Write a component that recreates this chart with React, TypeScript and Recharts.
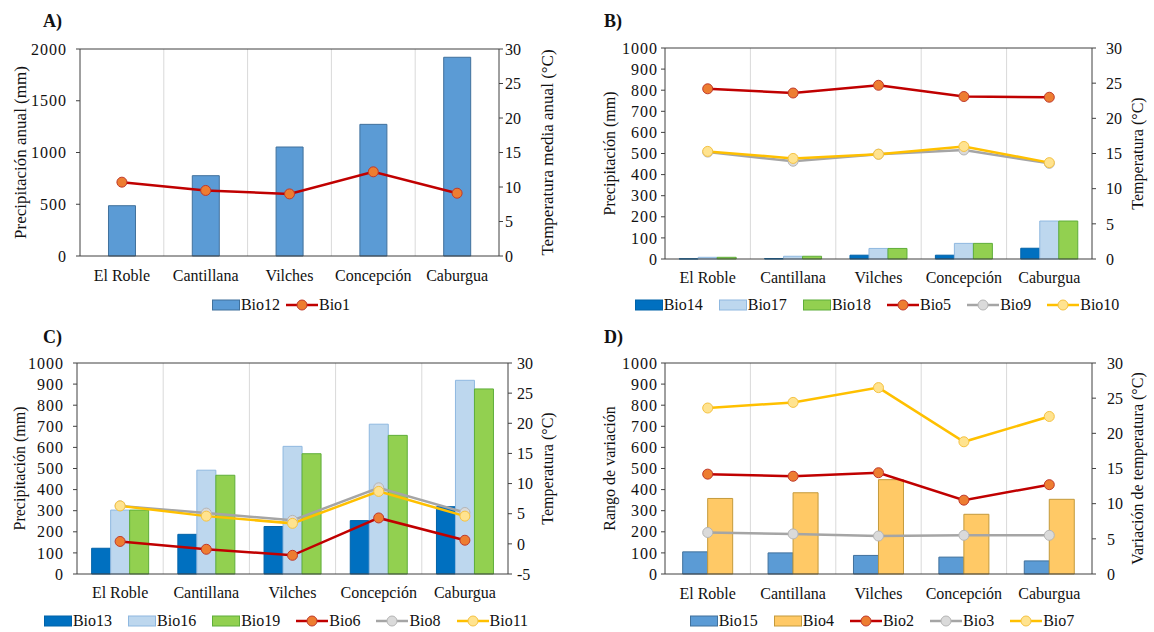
import React from "react";
import {
  ComposedChart,
  Bar,
  Line,
  XAxis,
  YAxis,
  CartesianGrid,
  ReferenceLine,
  Legend,
} from "recharts";

// sites shared by all four panels
const sites = ["El Roble", "Cantillana", "Vilches", "Concepción", "Caburgua"];

// A) annual precipitation + mean temperature
const bio12 = [486, 776, 1053, 1272, 1920];
const bio1 = [10.7, 9.5, 9.0, 12.2, 9.1];

// B) dry period
const bio14 = [1, 2, 18, 18, 51];
const bio17 = [8, 13, 50, 74, 180];
const bio18 = [8, 13, 50, 74, 180];
const bio5 = [24.2, 23.6, 24.7, 23.1, 23.0];
const bio9 = [15.2, 13.9, 14.9, 15.5, 13.6];
const bio10 = [15.3, 14.3, 14.9, 16.0, 13.7];

// C) wet period
const bio13 = [122, 188, 225, 253, 319];
const bio16 = [303, 492, 605, 710, 918];
const bio19 = [303, 468, 570, 657, 877];
const bio6 = [0.4, -0.9, -1.9, 4.3, 0.6];
const bio8 = [6.3, 5.1, 3.9, 9.3, 5.2];
const bio11 = [6.3, 4.6, 3.4, 8.7, 4.6];

// D) variation ranges
const bio15 = [105, 100, 88, 80, 62];
const bio4 = [358, 385, 447, 283, 354];
const bio2 = [14.2, 13.9, 14.4, 10.5, 12.7];
const bio3 = [5.9, 5.7, 5.4, 5.5, 5.5];
const bio7 = [23.6, 24.4, 26.5, 18.8, 22.4];

// tick labels
const ticksA = [0, 500, 1000, 1500, 2000];
const ticks1000 = [0, 100, 200, 300, 400, 500, 600, 700, 800, 900, 1000];
const ticks30 = [0, 5, 10, 15, 20, 25, 30];
const ticksC = [-5, 0, 5, 10, 15, 20, 25, 30];

const FONT = "Liberation Serif";
const AX = "#404040";
const GRID = "#D9D9D9";
const TXT = "#111";

const RED = { kind: "line", stroke: "#C00000", dot: "#ED7D31", dotStroke: "#C0392B" };
const GRAY = { kind: "line", stroke: "#A5A5A5", dot: "#DADADA", dotStroke: "#B5B5B5" };
const YEL = { kind: "line", stroke: "#FFC000", dot: "#FFE38F", dotStroke: "#F5C242" };

const panels = [
  {
    id: "A", left: 0, top: 0, letterX: 43,
    margin: { top: 49, right: 0, bottom: 30, left: 0 },
    leftW: 80, rightW: 78, leftTM: 9, rightTM: 2, xTM: 8,
    leftDomain: [0, 2000], leftTicks: ticksA, rightDomain: [0, 30], rightTicks: ticks30,
    leftTitle: "Precipitación anual (mm)", rightTitle: "Temperatura media anual (°C)",
    titleSize: 17, leftTitleX: 20, rightTitleX: 48,
    barGap: "34%", legendX: 281, legendGap: 6,
    series: [
      { name: "Bio12", values: bio12, kind: "bar", fill: "#5B9BD5", stroke: "#41719C" },
      { name: "Bio1", values: bio1, ...RED },
    ],
  },
  {
    id: "B", left: 577, top: 0, letterX: 27,
    margin: { top: 48, right: 0, bottom: 27, left: 0 },
    leftW: 88, rightW: 62, leftTM: 3, rightTM: 10, xTM: 7,
    leftDomain: [0, 1000], leftTicks: ticks1000, rightDomain: [0, 30], rightTicks: ticks30,
    leftTitle: "Precipitación (mm)", rightTitle: "Temperatura (°C)",
    titleSize: 16, leftTitleX: 32, rightTitleX: 45,
    barGap: "16.6%", legendX: 300, legendGap: 16,
    series: [
      { name: "Bio14", values: bio14, kind: "bar", fill: "#0070C0", stroke: "#0062A8" },
      { name: "Bio17", values: bio17, kind: "bar", fill: "#BDD7EE", stroke: "#8FB8E0" },
      { name: "Bio18", values: bio18, kind: "bar", fill: "#92D050", stroke: "#5FAE3A" },
      { name: "Bio5", values: bio5, ...RED },
      { name: "Bio9", values: bio9, ...GRAY },
      { name: "Bio10", values: bio10, ...YEL },
    ],
  },
  {
    id: "C", left: 0, top: 316, letterX: 43,
    margin: { top: 47, right: 0, bottom: 28, left: 0 },
    leftW: 77, rightW: 69, leftTM: 9, rightTM: 5, xTM: 7,
    leftDomain: [0, 1000], leftTicks: ticks1000, rightDomain: [-5, 30], rightTicks: ticksC,
    leftTitle: "Precipitación (mm)", rightTitle: "Temperatura (°C)",
    titleSize: 16, leftTitleX: 19, rightTitleX: 39,
    barGap: "17%", legendX: 286, legendGap: 16,
    series: [
      { name: "Bio13", values: bio13, kind: "bar", fill: "#0070C0", stroke: "#0062A8" },
      { name: "Bio16", values: bio16, kind: "bar", fill: "#BDD7EE", stroke: "#8FB8E0" },
      { name: "Bio19", values: bio19, kind: "bar", fill: "#92D050", stroke: "#5FAE3A" },
      { name: "Bio6", values: bio6, ...RED },
      { name: "Bio8", values: bio8, ...GRAY },
      { name: "Bio11", values: bio11, ...YEL },
    ],
  },
  {
    id: "D", left: 577, top: 316, letterX: 27,
    margin: { top: 47, right: 0, bottom: 28, left: 0 },
    leftW: 88, rightW: 62, leftTM: 3, rightTM: 11, xTM: 8,
    leftDomain: [0, 1000], leftTicks: ticks1000, rightDomain: [0, 30], rightTicks: ticks30,
    leftTitle: "Rango de variación", rightTitle: "Variación de temperatura (°C)",
    titleSize: 16, leftTitleX: 32, rightTitleX: 45,
    barGap: "20.7%", legendX: 305, legendGap: 16,
    series: [
      { name: "Bio15", values: bio15, kind: "bar", fill: "#5B9BD5", stroke: "#41719C" },
      { name: "Bio4", values: bio4, kind: "bar", fill: "#FFC966", stroke: "#C49A3C" },
      { name: "Bio2", values: bio2, ...RED },
      { name: "Bio3", values: bio3, ...GRAY },
      { name: "Bio7", values: bio7, ...YEL },
    ],
  },
];

const axisTitle = (text: string, dx: number, size: number) => (props: any) => {
  const vb = props.viewBox || {};
  const cx = vb.x + dx;
  const cy = vb.y + vb.height / 2;
  return (
    <text
      x={cx}
      y={cy}
      transform={`rotate(-90 ${cx} ${cy})`}
      textAnchor="middle"
      dominantBaseline="central"
      fontFamily={FONT}
      fontSize={size}
      fill={TXT}
    >
      {text}
    </text>
  );
};

function LegendRow({ series, gap }: { series: any[]; gap: number }) {
  return (
    <div
      style={{
        display: "flex",
        justifyContent: "center",
        alignItems: "center",
        gap,
        height: 20,
        fontFamily: FONT,
        fontSize: 16,
        color: TXT,
      }}
    >
      {series.map((s) => (
        <div key={s.name} style={{ display: "flex", alignItems: "center" }}>
          {s.kind === "bar" ? (
            <svg width={28} height={12}>
              <rect x={0.5} y={1} width={27} height={10} fill={s.fill} stroke={s.stroke} />
            </svg>
          ) : (
            <svg width={32} height={12}>
              <line x1={0} y1={6} x2={32} y2={6} stroke={s.stroke} strokeWidth={2.5} />
              <circle cx={16} cy={6} r={5} fill={s.dot} stroke={s.dotStroke} />
            </svg>
          )}
          <span style={{ marginLeft: 1 }}>{s.name}</span>
        </div>
      ))}
    </div>
  );
}

function Panel({ p }: { p: any }) {
  const data = sites.map((site, i) => {
    const row: any = { site };
    p.series.forEach((s: any) => (row[s.name] = s.values[i]));
    return row;
  });
  const tickStyle = { fill: TXT, fontSize: 16, fontFamily: FONT };
  return (
    <div style={{ position: "absolute", left: p.left, top: p.top }}>
      <div
        style={{
          position: "absolute",
          left: p.letterX,
          top: 10,
          fontFamily: FONT,
          fontWeight: "bold",
          fontSize: 18,
          lineHeight: "22px",
          color: TXT,
          zIndex: 2,
        }}
      >
        {p.id})
      </div>
      <ComposedChart
        width={577}
        height={316}
        data={data}
        margin={p.margin}
        barCategoryGap={p.barGap}
        barGap={0}
      >
        <CartesianGrid
          yAxisId="left"
          horizontal={false}
          stroke={GRID}
          verticalCoordinatesGenerator={({ offset }: any) =>
            sites.slice(1).map((_, i) => offset.left + ((i + 1) * offset.width) / sites.length)
          }
        />
        <XAxis
          dataKey="site"
          height={30}
          axisLine={{ stroke: AX }}
          tickLine={false}
          tickMargin={p.xTM}
          tick={tickStyle}
          interval={0}
        />
        <YAxis
          yAxisId="left"
          width={p.leftW}
          domain={p.leftDomain}
          ticks={p.leftTicks}
          interval={0}
          axisLine={{ stroke: AX }}
          tickLine={{ stroke: AX }}
          tickSize={4}
          tickMargin={p.leftTM}
          tick={{ ...tickStyle, letterSpacing: 1 }}
          label={axisTitle(p.leftTitle, p.leftTitleX, p.titleSize)}
        />
        <YAxis
          yAxisId="right"
          orientation="right"
          width={p.rightW}
          domain={p.rightDomain}
          ticks={p.rightTicks}
          interval={0}
          axisLine={{ stroke: AX }}
          tickLine={{ stroke: AX }}
          tickSize={4}
          tickMargin={p.rightTM}
          tick={tickStyle}
          label={axisTitle(p.rightTitle, p.rightTitleX, p.titleSize)}
        />
        <ReferenceLine yAxisId="left" y={p.leftDomain[1]} stroke={AX} />
        {p.series
          .filter((s: any) => s.kind === "bar")
          .map((s: any) => (
            <Bar
              key={s.name}
              yAxisId="left"
              dataKey={s.name}
              fill={s.fill}
              stroke={s.stroke}
              strokeWidth={1}
              isAnimationActive={false}
            />
          ))}
        {p.series
          .filter((s: any) => s.kind === "line")
          .map((s: any) => (
            <Line
              key={s.name}
              yAxisId="right"
              type="linear"
              dataKey={s.name}
              stroke={s.stroke}
              strokeWidth={2.5}
              dot={{ r: 5, fill: s.dot, stroke: s.dotStroke, strokeWidth: 1 }}
              activeDot={false}
              isAnimationActive={false}
            />
          ))}
        <Legend
          layout="horizontal"
          verticalAlign="middle"
          align="center"
          wrapperStyle={{ left: p.legendX - 270, top: 295, width: 540, height: 20 }}
          content={() => <LegendRow series={p.series} gap={p.legendGap} />}
        />
      </ComposedChart>
    </div>
  );
}

export default function App() {
  return (
    <div
      style={{
        position: "absolute",
        left: 0,
        top: 0,
        width: 1154,
        height: 632,
        background: "#fff",
        overflow: "hidden",
        fontFamily: FONT,
      }}
    >
      {panels.map((p) => (
        <Panel key={p.id} p={p} />
      ))}
    </div>
  );
}
